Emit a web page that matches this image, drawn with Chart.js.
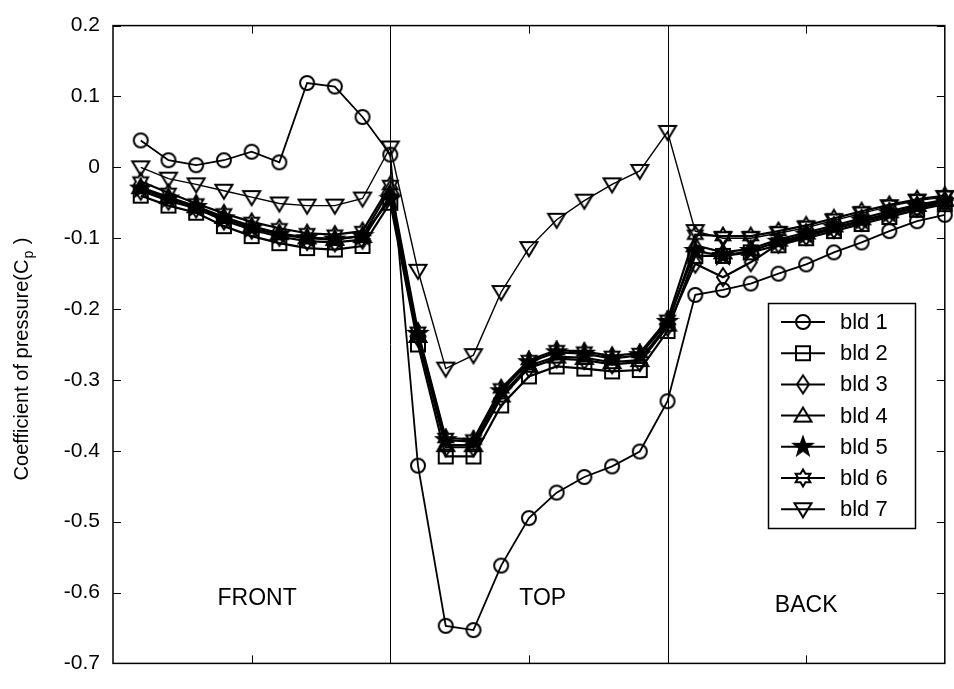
<!DOCTYPE html>
<html>
<head>
<meta charset="utf-8">
<script src="https://cdn.jsdelivr.net/npm/chart.js@4.4.0/dist/chart.umd.min.js"></script>
<style>
  html, body { margin: 0; padding: 0; background: #fff; }
  #wrap { position: relative; width: 954px; height: 689px; }
</style>
</head>
<body>
<div id="wrap"><canvas id="cpChart"></canvas></div>
<script>
// measurement stations along the building section (front 0-1, top 1-2, back 2-3)
const stations = [0.1, 0.2, 0.3, 0.4, 0.5, 0.6, 0.7, 0.8, 0.9, 1.0,
                  1.1, 1.2, 1.3, 1.4, 1.5, 1.6, 1.7, 1.8, 1.9, 2.0,
                  2.1, 2.2, 2.3, 2.4, 2.5, 2.6, 2.7, 2.8, 2.9, 3.0];

const bld1 = [0.038, 0.010, 0.003, 0.010, 0.022, 0.007, 0.119, 0.114, 0.071, 0.018,
              -0.421, -0.647, -0.653, -0.562, -0.495, -0.459, -0.437, -0.422, -0.401, -0.330,
              -0.180, -0.173, -0.164, -0.150, -0.137, -0.120, -0.106, -0.090, -0.076, -0.067];
const bld2 = [-0.040, -0.054, -0.064, -0.083, -0.097, -0.107, -0.114, -0.116, -0.111, -0.050,
              -0.250, -0.408, -0.408, -0.336, -0.295, -0.281, -0.284, -0.288, -0.286, -0.231,
              -0.125, -0.125, -0.120, -0.110, -0.100, -0.090, -0.080, -0.070, -0.060, -0.052];
const bld3 = [-0.033, -0.047, -0.058, -0.075, -0.088, -0.098, -0.104, -0.106, -0.102, -0.040,
              -0.240, -0.395, -0.395, -0.325, -0.283, -0.270, -0.272, -0.278, -0.275, -0.225,
              -0.136, -0.155, -0.134, -0.108, -0.097, -0.087, -0.077, -0.067, -0.057, -0.050];
const bld4 = [-0.028, -0.042, -0.055, -0.070, -0.083, -0.093, -0.099, -0.101, -0.097, -0.030,
              -0.238, -0.392, -0.392, -0.322, -0.280, -0.267, -0.269, -0.275, -0.272, -0.222,
              -0.110, -0.120, -0.115, -0.102, -0.092, -0.082, -0.072, -0.062, -0.053, -0.046];
const bld5 = [-0.030, -0.044, -0.056, -0.072, -0.086, -0.095, -0.100, -0.102, -0.097, -0.045,
              -0.235, -0.385, -0.387, -0.316, -0.275, -0.261, -0.263, -0.270, -0.265, -0.218,
              -0.118, -0.125, -0.118, -0.105, -0.095, -0.085, -0.075, -0.065, -0.055, -0.048];
const bld6 = [-0.020, -0.036, -0.051, -0.065, -0.077, -0.086, -0.093, -0.095, -0.090, -0.025,
              -0.232, -0.382, -0.384, -0.312, -0.272, -0.258, -0.260, -0.266, -0.262, -0.215,
              -0.095, -0.097, -0.097, -0.090, -0.082, -0.072, -0.062, -0.053, -0.045, -0.040];
const bld7 = [0.000, -0.016, -0.024, -0.033, -0.042, -0.051, -0.054, -0.054, -0.044, 0.028,
              -0.146, -0.284, -0.265, -0.176, -0.114, -0.074, -0.047, -0.024, -0.005, 0.050,
              -0.090, -0.100, -0.100, -0.093, -0.085, -0.075, -0.065, -0.055, -0.047, -0.042];

const seriesNames = ['bld 1', 'bld 2', 'bld 3', 'bld 4', 'bld 5', 'bld 6', 'bld 7'];
const seriesValues = [bld1, bld2, bld3, bld4, bld5, bld6, bld7];
const markerKinds = ['circle', 'square', 'diamond', 'up', 'penta', 'hexa', 'down'];

const yTickValues = [0.2, 0.1, 0, -0.1, -0.2, -0.3, -0.4, -0.5, -0.6, -0.7];
const xTickValues = [0.5, 1.5, 2.5];
const dividers = [1, 2];
const regionNames = ['FRONT', 'TOP', 'BACK'];
const regionX = [0.52, 1.55, 2.5];
const regionY = [-0.608, -0.608, -0.618];

const FONT = '"Liberation Sans", Arial, Helvetica, sans-serif';

function makeMarker(kind) {
    const c = document.createElement('canvas');
    c.width = 24; c.height = 24;
    const g = c.getContext('2d');
    const m = 12;
    g.strokeStyle = '#000';
    g.fillStyle = '#000';
    g.lineWidth = 2;
    g.beginPath();
    if (kind === 'circle') {
        g.arc(m, m, 7, 0, Math.PI * 2);
    } else if (kind === 'square') {
        g.rect(m - 7, m - 7, 14, 14);
    } else if (kind === 'diamond') {
        g.moveTo(m, m - 9); g.lineTo(m + 6, m); g.lineTo(m, m + 9); g.lineTo(m - 6, m); g.closePath();
    } else if (kind === 'up') {
        g.moveTo(m, m - 8); g.lineTo(m + 8.5, m + 6); g.lineTo(m - 8.5, m + 6); g.closePath();
    } else if (kind === 'down') {
        g.moveTo(m - 8.5, m - 6); g.lineTo(m + 8.5, m - 6); g.lineTo(m, m + 8); g.closePath();
    } else if (kind === 'penta' || kind === 'hexa') {
        const n = kind === 'penta' ? 5 : 6;
        const ro = kind === 'penta' ? 9.5 : 8.5;
        const ri = kind === 'penta' ? 3.8 : 4.9;
        for (let i = 0; i < n * 2; i++) {
            const r = i % 2 === 0 ? ro : ri;
            const a = -Math.PI / 2 + i * Math.PI / n;
            const px = m + r * Math.cos(a), py = m + r * Math.sin(a);
            if (i === 0) g.moveTo(px, py); else g.lineTo(px, py);
        }
        g.closePath();
        if (kind === 'penta') g.fill();
    }
    g.stroke();
    return c;
}

const markers = markerKinds.map(makeMarker);
const lineWidths = [1.8, 2.2, 2.2, 2.2, 2.2, 2.2, 1.4];

const datasets = seriesNames.map((name, i) => ({
    label: name,
    data: stations.map((x, j) => ({ x, y: seriesValues[i][j] })),
    borderColor: '#000',
    borderWidth: lineWidths[i],
    pointStyle: markers[i],
    pointRadius: 7,
    pointHoverRadius: 7,
    tension: 0,
    fill: false,
    clip: false
}));

const framePlugin = {
    id: 'frame',
    beforeDatasetsDraw(chart) {
        const { ctx, chartArea: a, scales: { x, y } } = chart;
        ctx.save();
        ctx.strokeStyle = '#000';
        ctx.lineWidth = 1;
        dividers.forEach(d => {
            const px = Math.round(x.getPixelForValue(d)) + 0.5;
            ctx.beginPath(); ctx.moveTo(px, a.top); ctx.lineTo(px, a.bottom); ctx.stroke();
        });
        ctx.fillStyle = '#000';
        ctx.font = '23px ' + FONT;
        ctx.textAlign = 'center';
        ctx.textBaseline = 'middle';
        regionNames.forEach((t, i) => {
            ctx.fillText(t, x.getPixelForValue(regionX[i]), y.getPixelForValue(regionY[i]));
        });
        ctx.restore();
    },
    afterDatasetsDraw(chart) {
        const { ctx, chartArea: a, scales: { x, y } } = chart;
        ctx.save();
        ctx.strokeStyle = '#000';
        ctx.lineWidth = 1.5;
        ctx.strokeRect(a.left, a.top, a.right - a.left, a.bottom - a.top);
        ctx.lineWidth = 1;
        const tl = 8;
        yTickValues.forEach(v => {
            const py = Math.round(y.getPixelForValue(v)) + 0.5;
            ctx.beginPath();
            ctx.moveTo(a.left, py); ctx.lineTo(a.left + tl, py);
            ctx.moveTo(a.right, py); ctx.lineTo(a.right - tl, py);
            ctx.stroke();
        });
        xTickValues.forEach(v => {
            const px = Math.round(x.getPixelForValue(v)) + 0.5;
            ctx.beginPath();
            ctx.moveTo(px, a.bottom); ctx.lineTo(px, a.bottom - tl);
            ctx.moveTo(px, a.top); ctx.lineTo(px, a.top + tl);
            ctx.stroke();
        });

        // y axis title with subscript p
        ctx.fillStyle = '#000';
        ctx.translate(22, 360);
        ctx.rotate(-Math.PI / 2);
        ctx.textBaseline = 'middle';
        ctx.textAlign = 'left';
        const main = 'Coefficient of pressure(C', sub = 'p', tail = ' )';
        ctx.font = '20px ' + FONT;
        const w1 = ctx.measureText(main).width, w3 = ctx.measureText(tail).width;
        ctx.font = '14px ' + FONT;
        const w2 = ctx.measureText(sub).width;
        const sx = -(w1 + w2 + w3) / 2;
        ctx.font = '20px ' + FONT;
        ctx.fillText(main, sx, 0);
        ctx.font = '14px ' + FONT;
        ctx.fillText(sub, sx + w1 + 1, 7);
        ctx.font = '20px ' + FONT;
        ctx.fillText(tail, sx + w1 + w2 + 2, 0);
        ctx.restore();

        // legend
        ctx.save();
        const lx = 768, ly = 303, lw = 147, lh = 225;
        ctx.fillStyle = '#fff';
        ctx.fillRect(lx, ly, lw, lh);
        ctx.strokeStyle = '#000';
        ctx.lineWidth = 1.5;
        ctx.strokeRect(lx + 0.5, ly + 0.5, lw, lh);
        ctx.font = '22px ' + FONT;
        ctx.fillStyle = '#000';
        ctx.textBaseline = 'middle';
        ctx.textAlign = 'left';
        seriesNames.forEach((name, i) => {
            const ry = ly + 19 + i * 31.2;
            ctx.lineWidth = 2;
            ctx.beginPath(); ctx.moveTo(781, ry); ctx.lineTo(825, ry); ctx.stroke();
            ctx.drawImage(markers[i], 803 - 12, ry - 12);
            ctx.fillText(name, 840, ry + 1);
        });
        ctx.restore();
    }
};

new Chart(document.getElementById('cpChart'), {
    type: 'line',
    data: { datasets },
    options: {
        responsive: true,
        maintainAspectRatio: false,
        animation: false,
        events: [],
        layout: { padding: { left: 0, right: 4, top: 20, bottom: 17 } },
        plugins: { legend: { display: false }, tooltip: { enabled: false } },
        scales: {
            x: { type: 'linear', min: 0, max: 3, display: false },
            y: {
                type: 'linear', min: -0.7, max: 0.2,
                border: { display: false },
                grid: { display: false, drawTicks: false },
                afterFit(scale) { scale.width = 113; },
                afterBuildTicks(scale) { scale.ticks = yTickValues.map(v => ({ value: v })); },
                ticks: {
                    color: '#000',
                    padding: 13,
                    font: { family: FONT, size: 21 },
                    callback: v => String(Number(v.toFixed(1)))
                }
            }
        }
    },
    plugins: [framePlugin]
});
</script>
</body>
</html>
